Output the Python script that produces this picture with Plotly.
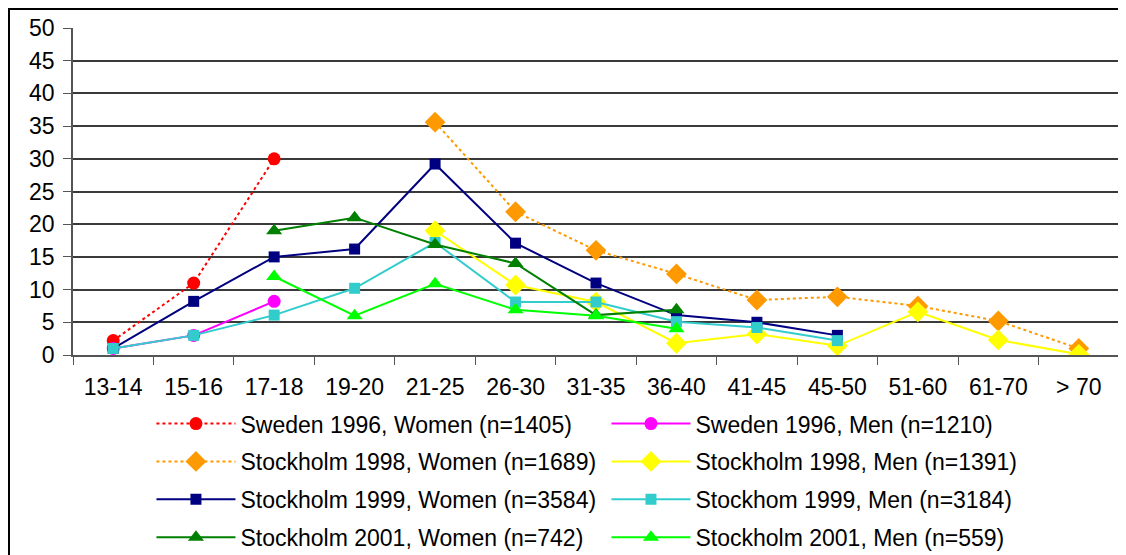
import plotly.graph_objects as go

categories = ["13-14", "15-16", "17-18", "19-20", "21-25", "26-30", "31-35",
              "36-40", "41-45", "45-50", "51-60", "61-70", "> 70"]

sweden96_women = [2.2, 11, 30, None, None, None, None, None, None, None, None, None, None]
sweden96_men = [1.0, 3.0, 8.2, None, None, None, None, None, None, None, None, None, None]
sthlm98_women = [None, None, None, None, 35.6, 21.9, 16.0, 12.4, 8.4, 8.9, 7.5, 5.2, 1.0]
sthlm98_men = [None, None, None, None, 19.0, 10.7, 8.1, 1.8, 3.2, 1.4, 6.6, 2.3, 0.1]
sthlm99_women = [1.0, 8.2, 15.0, 16.2, 29.2, 17.1, 11.0, 6.1, 5.0, 3.0, None, None, None]
sthlm99_men = [1.0, 3.0, 6.1, 10.2, 17.2, 8.1, 8.1, 5.1, 4.2, 2.2, None, None, None]
sthlm01_women = [None, None, 19.0, 21.0, 16.9, 14.0, 6.1, 6.9, None, None, None, None, None]
sthlm01_men = [None, None, 12.0, 6.0, 10.9, 6.9, 6.0, 4.0, None, None, None, None, None]

series = [
    ("Sweden 1996, Women (n=1405)", sweden96_women, "#FF0000", "dot", "circle", 13, "legend"),
    ("Sweden 1996, Men (n=1210)", sweden96_men, "#FF00FF", "solid", "circle", 13, "legend2"),
    ("Stockholm 1998, Women (n=1689)", sthlm98_women, "#FF9900", "dot", "diamond", 16, "legend"),
    ("Stockholm 1998, Men (n=1391)", sthlm98_men, "#FFFF00", "solid", "diamond", 16, "legend2"),
    ("Stockholm 1999, Women (n=3584)", sthlm99_women, "#000080", "solid", "square", 11, "legend"),
    ("Stockhom 1999, Men (n=3184)", sthlm99_men, "#33CCCC", "solid", "square", 11, "legend2"),
    ("Stockholm 2001, Women (n=742)", sthlm01_women, "#008000", "solid", "triangle-up", 14, "legend"),
    ("Stockholm 2001, Men (n=559)", sthlm01_men, "#00FF00", "solid", "triangle-up", 14, "legend2"),
]

fig = go.Figure()
for i, (name, vals, color, dash, sym, size, lg) in enumerate(series):
    fig.add_trace(go.Scatter(
        x=categories, y=vals, name=name, mode="lines+markers",
        line=dict(color=color, width=2, dash=dash),
        marker=dict(symbol=sym, size=size, color=color, line=dict(width=0)),
        legend=lg, legendgroup=f"g{i}", connectgaps=False,
    ))

font = "Liberation Sans, Arial, sans-serif"
legend_common = dict(
    orientation="v", yanchor="top", xanchor="left",
    font=dict(family=font, size=23, color="#000000"),
    bgcolor="rgba(0,0,0,0)", tracegroupgap=5, itemwidth=79,
)

fig.update_layout(
    width=1118, height=547,
    margin=dict(l=65, r=7, t=20, b=200, autoexpand=False),
    paper_bgcolor="#FFFFFF", plot_bgcolor="#FFFFFF",
    font=dict(family=font, size=23, color="#000000"),
    showlegend=True,
    legend=dict(x=0.075, y=-0.144, **legend_common),
    legend2=dict(x=0.510, y=-0.144, **legend_common),
    xaxis=dict(
        type="category", range=[-0.5, 12.5],
        tickson="boundaries", ticks="outside", ticklen=8, tickcolor="#555555",
        showline=True, linecolor="#555555", linewidth=1.5,
        showgrid=False, ticklabelstandoff=11,
        tickfont=dict(family=font, size=23),
    ),
    yaxis=dict(
        range=[0, 50], dtick=5, tick0=0,
        ticks="outside", ticklen=8, tickcolor="#555555",
        showline=True, linecolor="#555555", linewidth=1.5,
        showgrid=True, gridcolor="#3a3a3a", gridwidth=1.5,
        zeroline=False, ticklabelstandoff=4,
        tickfont=dict(family=font, size=23),
    ),
    shapes=[dict(type="rect", xref="paper", yref="paper",
                 x0=-0.0612, x1=1.03, y0=-0.8, y1=1.058,
                 line=dict(color="#000000", width=2), fillcolor="rgba(0,0,0,0)",
                 layer="below")],
)

fig.write_html("out.html")
